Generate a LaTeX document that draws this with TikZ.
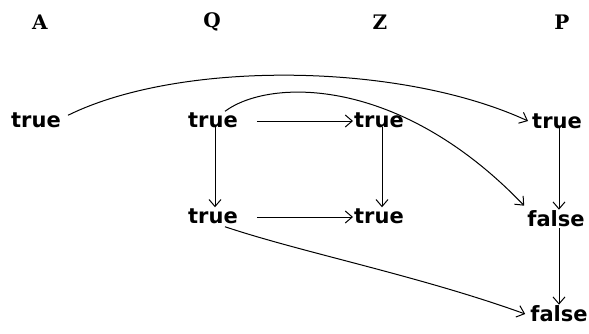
\documentclass[tikz,border=0pt]{standalone}
\usepackage{fontspec}
\setmainfont{DejaVu Sans}
\newfontfamily\headfont{DejaVu Serif}
\usetikzlibrary{arrows.meta}
\begin{document}
\begin{tikzpicture}[x=1pt,y=-1pt,
  val/.style={font=\bfseries\fontsize{21}{23}\selectfont, inner sep=1pt},
  head/.style={font=\headfont\bfseries\fontsize{20}{22}\selectfont},
  arr/.style={-{Straight Barb[length=7pt,width=12pt]}, line width=1pt, black}]
\useasboundingbox (0,0) rectangle (589,333);
\node[head] (hA) at (40,22) {A};
\node[head] (hQ) at (212,22) {Q};
\node[head] (hZ) at (380,22) {Z};
\node[head] (hP) at (562,22) {P};

\node[val] (a1) at (36,120) {true};
\node[val] (q1) at (213,120) {true};
\node[val] (z1) at (379,120) {true};
\node[val] (p1) at (557,121) {true};
\node[val] (q2) at (213,216) {true};
\node[val] (z2) at (379,216) {true};
\node[val] (p2) at (556,219) {false};
\node[val] (p3) at (559,314) {false};

\draw[arr] (q1.east) ++(18,1) coordinate (q1e) -- (z1.west |- q1e);
\draw[arr] (q2.east) ++(18,1) coordinate (q2e) -- (z2.west |- q2e);
\draw[arr] (q1.south) ++(2,-2) coordinate (q1s) -- (q1s |- q2.north);
\draw[arr] (z1.south) ++(3,-2) coordinate (z1s) -- (z1s |- z2.north);
\draw[arr] (p1.south) ++(2,-2) coordinate (p1s) -- (p1s |- p2.north);
\draw[arr] (p2.south) ++(3,0) coordinate (p2s) -- (p2s |- p3.north);
\draw[arr] (q2.south east) ++(-14,2) coordinate (q2se) .. controls (300,252) and (420,276) .. ([xshift=-4pt]p3.west);
\draw[arr] (a1.north east) ++(6,4) coordinate (a1ne) .. controls (180,60) and (400,62) .. ([xshift=-3pt]p1.west);
\draw[arr] (q1.north) ++(12,0) coordinate (q1n) .. controls (270,78) and (400,76) .. ([xshift=-2pt,yshift=4pt]p2.north west);
\end{tikzpicture}
\end{document}
